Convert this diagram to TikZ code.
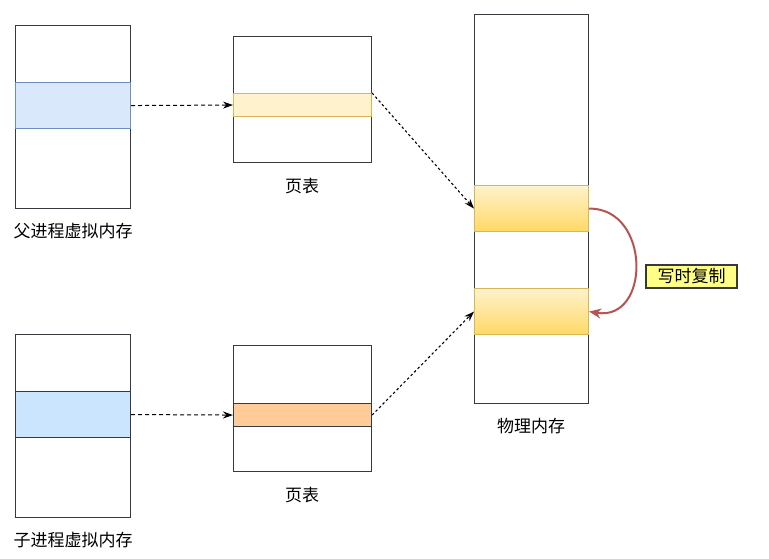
\documentclass[tikz,border=0pt]{standalone}
\usepackage{xcolor}
\usepackage{fontspec}
\setmainfont{Noto Sans CJK SC}
\usepackage{tikz}
\usetikzlibrary{arrows.meta,positioning}

\definecolor{bluefill}{HTML}{DAE8FC}
\definecolor{blueline}{HTML}{6C8EBF}
\definecolor{childfill}{HTML}{CCE5FF}
\definecolor{yellowfill}{HTML}{FFF2CC}
\definecolor{yellowline}{HTML}{D6B656}
\definecolor{golddark}{HTML}{FFD966}
\definecolor{orangefill}{HTML}{FFCC99}
\definecolor{frameline}{HTML}{36393D}
\definecolor{cowred}{HTML}{B85450}
\definecolor{notefill}{HTML}{FFFF88}

\begin{document}
\begin{tikzpicture}[
  x=1pt, y=-1pt,
  mem/.style={draw=frameline, fill=white, line width=1.1pt, minimum width=#1, inner sep=0pt, anchor=north west},
  row/.style={line width=1.1pt, inner sep=0pt, anchor=north west},
  caption/.style={font=\fontsize{17}{20}\selectfont, inner sep=0pt},
  note/.style={draw=frameline, fill=notefill, line width=1.1pt, font=\fontsize{17}{20}\selectfont, inner sep=0pt, minimum width=91pt, minimum height=23pt},
  arrow/.style={-{Stealth[length=10pt,width=7pt]}, dash pattern=on 4pt off 3pt, line width=1pt},
  dotarrow/.style={-{Stealth[length=10pt,width=7pt]}, dash pattern=on 2.5pt off 2.5pt, line width=1.1pt}
]
\useasboundingbox (0,0) rectangle (769,559);

% parent process
\node[mem=115pt, minimum height=183pt] (parentvm) at (15,25) {};
\node[row, draw=blueline, fill=bluefill, minimum width=115pt, minimum height=46pt] (parentrow) at (15,82) {};
\node[caption] (parentlabel) at (73,231) {父进程虚拟内存};

% child process
\node[mem=115pt, minimum height=183pt] (childvm) at (15,334) {};
\node[row, draw=frameline, fill=childfill, minimum width=115pt, minimum height=46pt] (childrow) at (15,391) {};
\node[caption] (childlabel) at (73,540) {子进程虚拟内存};

% page tables
\node[mem=138pt, minimum height=126pt] (pt1) at (233,36) {};
\node[row, draw=yellowline, fill=yellowfill, minimum width=138pt, minimum height=23pt] (ptrow1) at (233,93) {};
\node[caption] (pt1label) at (302,186) {页表};

\node[mem=138pt, minimum height=126pt] (pt2) at (233,345) {};
\node[row, draw=frameline, fill=orangefill, minimum width=138pt, minimum height=23pt] (ptrow2) at (233,403) {};
\node[caption] (pt2label) at (302,495) {页表};

% physical memory
\node[mem=114pt, minimum height=389pt] (phys) at (474,14) {};
\node[row, draw=yellowline, top color=yellowfill, bottom color=golddark, minimum width=114pt, minimum height=46pt] (physrow1) at (474,185) {};
\node[row, draw=yellowline, top color=yellowfill, bottom color=golddark, minimum width=114pt, minimum height=46pt] (physrow2) at (474,288) {};
\node[caption] (physlabel) at (531,426) {物理内存};

\node[note] (cow) at (691.5,276.5) {写时复制};

\draw[arrow] (parentrow.east) -- (ptrow1.west);
\draw[arrow] (childrow.east) -- (ptrow2.west);
\draw[dotarrow] (ptrow1.north east) -- (physrow1.west);
\draw[dotarrow] (ptrow2.east) -- (physrow2.west);
\draw[-{Stealth[length=12pt,width=10pt]}, draw=cowred, line width=2pt]
  (physrow1.east) .. controls (651,208) and (651,322) .. (physrow2.east);
\end{tikzpicture}
\end{document}
